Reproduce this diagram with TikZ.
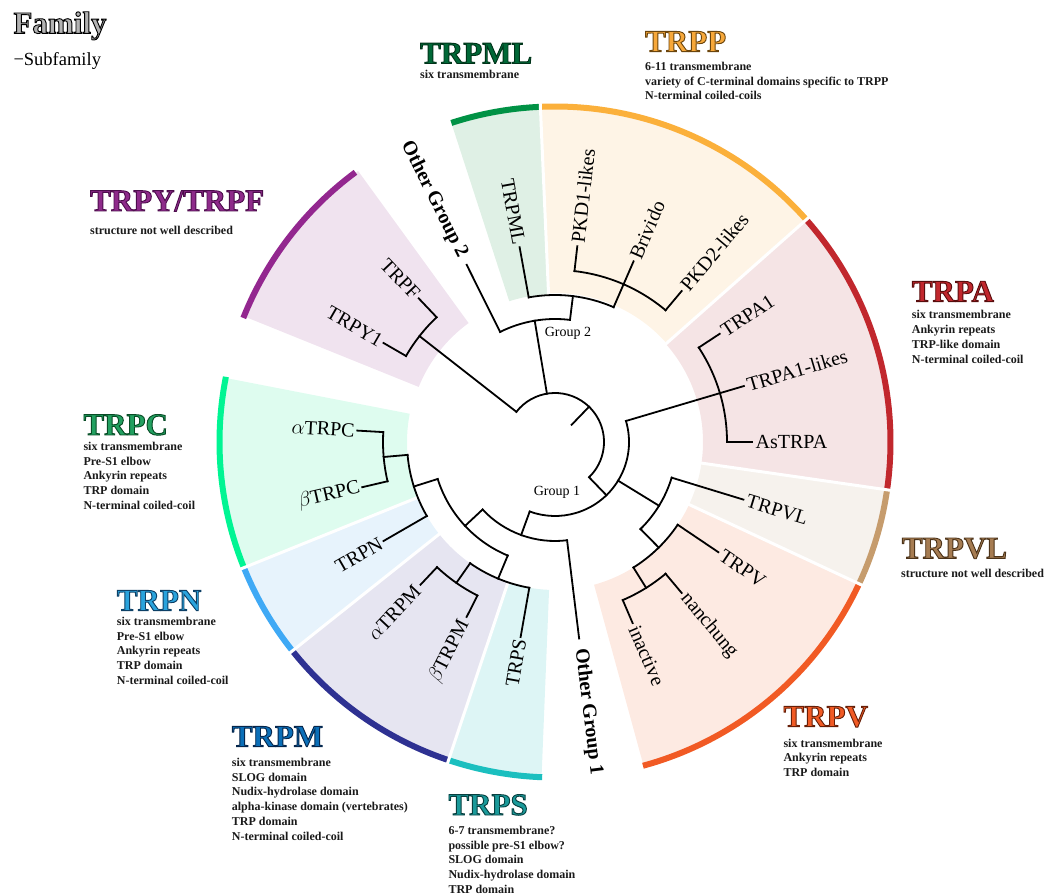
\documentclass[tikz,border=0pt]{standalone}
\usepackage{fontspec}
\setmainfont{Liberation Serif}
\newfontface\ttlfont{Liberation Serif Bold}[RawFeature={embolden=3}]
\definecolor{mlA}{HTML}{009245}\definecolor{mlW}{HTML}{DFF0E5}\definecolor{mlT}{HTML}{006837}
\definecolor{ppA}{HTML}{FBB03B}\definecolor{ppW}{HTML}{FEF4E6}\definecolor{ppT}{HTML}{F7A83A}
\definecolor{paA}{HTML}{C1272D}\definecolor{paW}{HTML}{F5E4E5}\definecolor{paT}{HTML}{C1272D}
\definecolor{vlA}{HTML}{C69C6D}\definecolor{vlW}{HTML}{F6F2ED}\definecolor{vlT}{HTML}{A67C52}
\definecolor{pvA}{HTML}{F15A24}\definecolor{pvW}{HTML}{FDEAE2}\definecolor{pvT}{HTML}{F15A24}
\definecolor{psA}{HTML}{1BBFBF}\definecolor{psW}{HTML}{DDF5F5}\definecolor{psT}{HTML}{1A9A9A}
\definecolor{pmA}{HTML}{2E3192}\definecolor{pmW}{HTML}{E6E5F1}\definecolor{pmT}{HTML}{0B6FB8}
\definecolor{pnA}{HTML}{3FA9F5}\definecolor{pnW}{HTML}{E7F3FC}\definecolor{pnT}{HTML}{2AA3DC}
\definecolor{pcA}{HTML}{00F593}\definecolor{pcW}{HTML}{DEFCEF}\definecolor{pcT}{HTML}{22A060}
\definecolor{pyA}{HTML}{93278F}\definecolor{pyW}{HTML}{F0E3EF}\definecolor{pyT}{HTML}{8E2A8A}
\definecolor{famT}{HTML}{B3B3B3}\definecolor{dsc}{HTML}{1A1A1A}
% outlined title text: #1 outline rgb (0-1, spaces), #2 fill colour, #3 text
\newcommand\ttl[3]{{\ttlfont\fontsize{31}{31}\selectfont\color{#2}\special{pdf:literal direct #1 RG}#3}}
\newcommand\rd[3]{\draw[br] (#1:#2pt) -- (#1:#3pt);}
\newcommand\ar[3]{\draw[br] (#2:#1pt) arc[start angle=#2,end angle=#3,radius=#1pt];}
\newcommand\sect[5]{\fill[#1] (#2:#4pt) arc[start angle=#2,end angle=#3,radius=#4pt] -- (#3:#5pt) arc[start angle=#3,end angle=#2,radius=#5pt] -- cycle;}
\newcommand\outarc[3]{\draw[#1,line width=6pt] (#2:335.5pt) arc[start angle=#2,end angle=#3,radius=335.5pt];}
\newcommand\sep[1]{\draw[white,line width=3pt] (#1:140pt) -- (#1:345pt);}
\newcommand\labR[3]{\node[lab,anchor=west,rotate=#2] (#1) at (#2:199pt) {#3};}
\newcommand\labL[3]{\node[lab,anchor=east,rotate=#2+180] (#1) at (#2:199pt) {#3};}
\newcommand\dlines[4]{\foreach \t [count=\i from 0] in {#4} {\node[dscst] (#1\i) at (#2,#3-14.7*\i) {\t};}}
\begin{document}
\begin{tikzpicture}[x=1pt,y=1pt,
  br/.style={line width=1.8pt,line cap=rect,black},
  lab/.style={font=\fontsize{20}{20}\selectfont,inner sep=1.5pt},
  olab/.style={font=\fontsize{20}{20}\selectfont\bfseries,inner sep=1pt},
  ttlst/.style={anchor=base west,inner sep=0pt},
  dscst/.style={font=\fontsize{12}{12}\selectfont\bfseries,text=dsc,anchor=base west,inner sep=0pt}]
\useasboundingbox (0,0) rectangle (1046,894);
\begin{scope}[shift={(555,452)}]
% sectors
\sect{pyW}{126}{158}{147}{335}
\sect{mlW}{92.5}{108}{148}{335}
\sect{ppW}{41.5}{92.5}{149}{335}
\sect{paW}{-8.2}{41.5}{148}{335}
\sect{vlW}{-25}{-8.2}{148}{335}
\sect{pvW}{-74.7}{-25}{148}{335}
\sect{psW}{-108.5}{-92.3}{148}{335}
\sect{pmW}{-141.5}{-108.5}{148}{335}
\sect{pnW}{-158}{-141.5}{148}{335}
\sect{pcW}{-191}{-158}{148}{335}
% outer arcs
\outarc{pyA}{126.5}{158.3}
\outarc{mlA}{92.5}{108}
\outarc{ppA}{41.5}{92.5}
\outarc{paA}{-8.2}{41.5}
\outarc{vlA}{-25}{-8.2}
\outarc{pvA}{-74.8}{-25}
\outarc{psA}{-108.5}{-92.2}
\outarc{pmA}{-141.5}{-108.5}
\outarc{pnA}{-158}{-141.5}
\outarc{pcA}{-191.2}{-158}
% separators
\sep{92.5}\sep{41.5}\sep{-8.2}\sep{-25}\sep{-108.5}\sep{-141.5}\sep{-158}
% tree
\rd{46}{24}{49}
\ar{49}{142}{-46}
\rd{142}{49}{172}
\ar{172}{150}{133.5}
\rd{150}{172}{198}
\rd{133.5}{172}{198}
\rd{99.5}{49}{123}
\ar{123}{116.5}{83}
\rd{116.5}{123}{198}
\rd{83}{123}{147}
\ar{147}{100.3}{66.5}
\rd{100.3}{147}{198}
\rd{66.5}{147}{197}
\ar{172}{83.5}{50}
\rd{83.5}{172}{197}
\rd{50}{172}{197}
\rd{-46}{49}{74}
\ar{74}{16.5}{-110}
\rd{16.5}{74}{197}
\ar{172}{33.3}{0}
\rd{33.3}{172}{197}
\rd{0}{172}{197}
\rd{-31.5}{74}{122}
\ar{122}{-17}{-45.5}
\rd{-17}{122}{197}
\rd{-45.5}{122}{148}
\ar{148}{-34}{-58}
\rd{-34}{148}{197}
\rd{-58}{148}{172}
\ar{172}{-50}{-66.8}
\rd{-50}{172}{197}
\rd{-66.8}{172}{197}
\rd{-110}{74}{99}
\ar{99}{-83}{-137}
\rd{-83}{99}{198}
\rd{-137}{99}{123}
\ar{123}{-112.6}{-162.5}
\rd{-162.5}{123}{148}
\ar{148}{-150}{-175}
\rd{-150}{148}{198}
\rd{-175}{148}{172}
\ar{172}{-166.8}{-183.3}
\rd{176.7}{172}{198}
\rd{-166.8}{172}{198}
\rd{-112.6}{123}{148}
\ar{148}{-100}{-125}
\rd{-100}{148}{198}
\rd{-125}{148}{172}
\ar{172}{-116.8}{-133.3}
\rd{-116.8}{172}{196}
\rd{-133.3}{172}{196}
% leaf labels
\labL{lY}{150}{TRPY1}
\labL{lF}{133.5}{TRPF}
\node[olab,anchor=east,rotate=-63.5] (og2) at (116.5:206pt) {Other Group 2};
\labL{lML}{100.3}{TRPML}
\labR{lP1}{83.5}{PKD1-likes}
\labR{lBr}{66.5}{Brivido}
\labR{lP2}{50}{PKD2-likes}
\labR{lA1}{33.3}{TRPA1}
\labR{lA1l}{16.5}{TRPA1-likes}
\labR{lAs}{0}{AsTRPA}
\labR{lVL}{-17}{TRPVL}
\labR{lV}{-34}{TRPV}
\labR{lna}{-50}{nanchung}
\labR{lin}{-66.8}{inactive}
\node[olab,anchor=west,rotate=-83] (og1) at (-83:207pt) {Other Group 1};
\labL{lS}{-100}{TRPS}
\labL{lbM}{-116.8}{$\beta$TRPM}
\labL{laM}{-133.3}{$\alpha$TRPM}
\labL{lN}{-150}{TRPN}
\labL{lbC}{-166.8}{$\beta$TRPC}
\labL{laC}{176.7}{$\alpha$TRPC}
\end{scope}
\node[font=\fontsize{14}{14}\selectfont] (g1) at (557,402) {Group 1};
\node[font=\fontsize{14}{14}\selectfont] (g2) at (568,561) {Group 2};
% legend
\node[ttlst] (fam) at (13.3,860.7) {\ttl{0 0 0}{famT}{Family}};
\node[font=\fontsize{18.5}{18.5}\selectfont,anchor=base west,inner sep=0pt] (sub) at (13.3,828) {\char"2212Subfamily};
% titles
\node[ttlst] (tML) at (420,830.5) {\ttl{0 0.2 0.1}{mlT}{TRPML}};
\dlines{dML}{420}{815}{six transmembrane}
\node[ttlst] (tPP) at (645,842.3) {\ttl{0.42 0.27 0.05}{ppT}{TRPP}};
\dlines{dPP}{645}{823.5}{6-11 transmembrane,variety of C-terminal domains specific to TRPP,N-terminal coiled-coils}
\node[ttlst] (tPY) at (90,683) {\ttl{0.3 0.05 0.3}{pyT}{TRPY/TRPF}};
\dlines{dPY}{90}{659}{structure not well described}
\node[ttlst] (tPA) at (911.7,592.3) {\ttl{0.35 0.05 0.05}{paT}{TRPA}};
\dlines{dPA}{911.7}{575}{six transmembrane,Ankyrin repeats,TRP-like domain,N-terminal coiled-coil}
\node[ttlst] (tPC) at (83.3,459) {\ttl{0.03 0.3 0.15}{pcT}{TRPC}};
\dlines{dPC}{83.3}{443.5}{six transmembrane,Pre-S1 elbow,Ankyrin repeats,TRP domain,N-terminal coiled-coil}
\node[ttlst] (tPN) at (116.7,283.3) {\ttl{0.05 0.25 0.4}{pnT}{TRPN}};
\dlines{dPN}{116.7}{268.5}{six transmembrane,Pre-S1 elbow,Ankyrin repeats,TRP domain,N-terminal coiled-coil}
\node[ttlst] (tPM) at (231.7,147.3) {\ttl{0.02 0.15 0.3}{pmT}{TRPM}};
\dlines{dPM}{231.7}{127.5}{six transmembrane,SLOG domain,Nudix-hydrolase domain,alpha-kinase domain (vertebrates),TRP domain,N-terminal coiled-coil}
\node[ttlst] (tPS) at (448.3,79) {\ttl{0.03 0.25 0.25}{psT}{TRPS}};
\dlines{dPS}{448.3}{59.5}{6-7 transmembrane?,possible pre-S1 elbow?,SLOG domain,Nudix-hydrolase domain,TRP domain}
\node[ttlst] (tVL) at (901.7,335.7) {\ttl{0.3 0.2 0.1}{vlT}{TRPVL}};
\dlines{dVL}{901}{316.7}{structure not well described}
\node[ttlst] (tPV) at (783.3,167.3) {\ttl{0.4 0.12 0.03}{pvT}{TRPV}};
\dlines{dPV}{783.3}{146.7}{six transmembrane,Ankyrin repeats,TRP domain}
\end{tikzpicture}
\end{document}
